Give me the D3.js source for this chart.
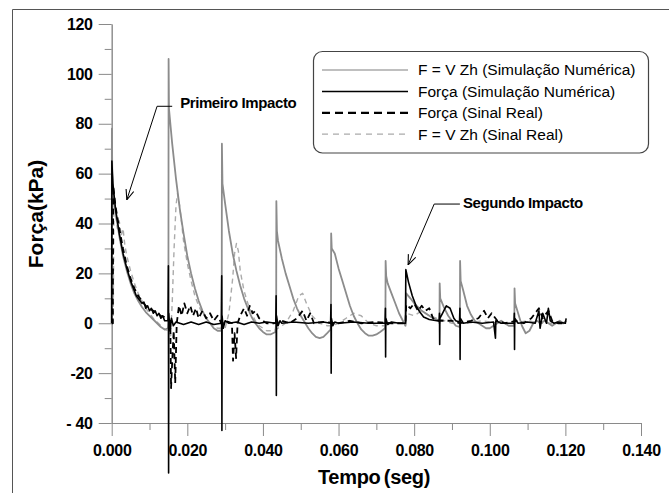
<!DOCTYPE html>
<html>
<head>
<meta charset="utf-8">
<script src="https://cdn.jsdelivr.net/npm/d3@7"></script>
<style>
  body { margin: 0; background: #fff; }
  svg text { font-family: Arial, "Liberation Sans", sans-serif; }
</style>
</head>
<body>
<svg id="chart"></svg>
<script>
// time in ms, force in kPa
const seriesNames = ["F = V Zh (Simulação Numérica)", "Força (Simulação Numérica)", "Força (Sinal Real)", "F = V Zh (Sinal Real)"];
const xTicks = [0, 20, 40, 60, 80, 100, 120, 140];
const xTickLabels = ["0.000", "0.020", "0.040", "0.060", "0.080", "0.100", "0.120", "0.140"];
const yTicks = [-40, -20, 0, 20, 40, 60, 80, 100, 120];
const yTickLabels = ["- 40", "-20", "0", "20", "40", "60", "80", "100", "120"];

// F = V Zh (Simulação Numérica)
const simVzh = [
  [0,0],[0.05,78],[0.15,60],[0.6,50],[1,45],[1.5,40],[2,35],[3,27],[4,21],[5,16],[6,12],[7,9],[8,6.5],[9,4.5],[10,3],[11,1.5],[12,0],[13,-1.5],[14,-2.5],[14.9,-2],
  [15,0],[15.05,106],[15.15,86],[16,72],[17,58],[18,46],[19,36],[20,27],[21,20],[22,14],[23,9],[24,5],[25,2],[26,0],[27,-2],[28,-3],[29,-3],
  [29.1,0],[29.15,72],[29.3,56],[30,48],[31,37],[32,28],[33,21],[34,15],[35,10],[36,6],[37,2.5],[38,0],[39,-2],[40,-3.5],[41,-4.5],[42,-4.5],[43.3,-3.5],
  [43.5,0],[43.55,49],[43.7,37],[44,33],[45,26],[46,20],[47,15],[48,10],[49,6],[50,3],[51,0.5],[52,-2],[53,-4],[54,-5.5],[55,-6],[56,-5.5],[57,-4],[57.9,-2.5],
  [58,0],[58.05,36],[58.2,30],[59,28],[60,22],[61,17],[62,12],[63,7],[64,3],[65,0],[66,-2.5],[67,-4],[68,-5],[69,-5],[70,-4.5],[71,-3.5],[72.3,-2],
  [72.4,0],[72.45,25],[72.6,19],[73,16],[74,12],[75,8],[76,4],[77,1],[77.7,-1],
  [77.8,0],[77.9,12],[79,10],[80,8],[81,6.5],[82,5],[83,4],[84,3],[85,2],[86,1.5],[86.6,1],
  [86.7,0],[86.75,16],[86.9,10],[88,6],[89,3],[90,1],[91,-1],[92,-1.5],
  [92.1,0],[92.15,25],[92.3,17],[93,13],[94,7],[95,3.5],[96,1],[97,0],[98,-1],[99,-2],[100,-2],[101,-1],[102,0],[103,1],[104,0],[105,-1],[106.4,-1],
  [106.5,0],[106.55,14],[106.7,8],[107.5,4],[108.5,-1],[109.5,-4],[110.5,-3],[111.5,0],[112.5,1],[113.5,0],[114.5,1],[115.5,0],[116.5,-1],[117.5,0],[118.5,1],[119.5,0],[120.2,1]
];

// Força (Simulação Numérica)
const simForce = [
  [0,0],[0.05,65],[0.3,56],[1,46],[2,36],[3,28],[4,22],[5,17],[5.5,15],[6,13],[6.5,11],[7,10],[7.5,9],[8,8],[8.5,8.5],[9,6],[9.5,7],[10,5],[10.5,6],[11,4],[11.5,5],[12,3],[12.5,4],[13,2],[13.5,3],[14,1],[14.9,1],
  [15,23],[15.05,-60],[15.1,4],[15.4,-3],[15.8,2],[16.3,-1],[17,0.5],[19,-0.5],[21,0.5],[23,-0.5],[25,0.5],[27,-0.5],[29,0],
  [29.1,19],[29.15,-43],[29.2,3],[29.5,-2],[30,1],[31,0],[33,0.5],[35,-0.5],[37,0.5],[39,0],[41,0.5],[43.4,0],
  [43.5,11],[43.55,-29],[43.6,3],[44,-1],[44.5,1],[45,0],[48,0.5],[52,0],[56,0.5],[57.9,0],
  [58,7.5],[58.05,-20],[58.1,2],[58.5,-1],[59,0.5],[60,0],[64,0.5],[68,0],[72.3,0],
  [72.4,6],[72.45,-13.5],[72.5,2],[73,-0.5],[74,0.5],[76,0],[77.7,0],
  [77.8,21.5],[78.5,16.5],[79.5,11],[80.5,7],[81.5,4.5],[82.5,2.5],[84,1.5],[86,1],[86.6,1],
  [86.7,4],[86.75,-8.5],[86.8,2],[87.5,4],[88.5,7],[89.5,6],[90.5,2],[91,1],[92,0.5],
  [92.1,6],[92.15,-14.5],[92.2,2],[93,0],[95,0.5],[98,0],[101,0.5],[101.5,-6],[101.6,1],[103,0],[106.4,0],
  [106.5,4],[106.55,-10.5],[106.6,2],[107.5,0],[110,0.5],[112,0],[113,5],[113.3,-2],[114,4],[115,0],[115.5,6],[116,1],[117,0],[118,0.5],[120,0],[120.2,2]
];

// Força (Sinal Real)
const realForce = [
  [0,0],[0.3,0],[0.4,55],[1,47],[2,38],[3,30],[4,23],[5,18],[6,14],[7,11],[8,9],[9,7],[10,6],[11,5],[12,4],[13,3],[14,2.5],[15,1.5],[15.5,1],
  [15.7,-26],[16.1,-12],[16.4,-3],[16.8,-24],[17.2,0],[17.8,7],[18.5,3],[19.2,8],[20,4],[20.8,7],[21.5,3],[22.3,6],[23,2],[24,5],[25,2],[26,4],[27,1],[28,3],[29,0],[30,1],[31,0.5],[31.8,0],
  [32.1,-15],[32.5,-4],[32.9,-14],[33.3,0],[34,3],[35,6],[35.8,3],[36.5,7],[37.3,4],[38,5],[39,2],[40,1],[41,0],[43,0],[45,1],[47,0],[49,2],[50.5,5],[51.5,1],[52.5,4],[53.5,0],
  [56,0.5],[60,0],[63,1],[66,0],[70,0.5],[74,0],[77.7,0],[77.9,7.5],[79,6],[80,8],[81,5],[82,7],[83,5],[84,6],[85,2],[86,1],[88,1],[90,1],[92,0],
  [95,1],[97,2],[98.5,5],[99.5,2],[100.5,4],[102,1],[104,0],[107,1],[109,0],[111,2],[113,6],[114,2],[115.5,5],[116.5,1],[118,0],[120,0]
];

// F = V Zh (Sinal Real)
const realVzh = [
  [0,0],[0.4,0],[0.6,50],[1,44],[1.5,38],[2,41],[2.5,35],[3,38],[3.5,31],[4,27],[5,21],[6,16],[7,12],[8,9],[9,6],[10,4],[11,2],[12,0.5],[13,-1],[14,-2.5],[15,-3],
  [15.6,-5],[16,8],[16.5,30],[17,47],[17.4,52],[17.9,48],[18.5,40],[19,33],[20,24],[21,17],[22,11],[23,7],[24,4],[25,2],[26,0],[27,-1],[28,-2],[29,-2],
  [30,-2],[31,4],[32,18],[32.5,28],[33,32],[33.5,29],[34,21],[35,13],[36,8],[37,4],[38,1],[39,-1],[40,-2],[41,-3],[43,-3],
  [44,-2],[46,0],[48,5],[49.5,11],[50.5,12],[51.5,8],[53,3],[55,0],[57,-1],[58,-1],[60,0],[62,2],[64,4],[66,3],[68,0],[70,-1],[72,-1],[74,0],[77.7,0],
  [78,4],[80,3],[82,5],[84,3],[86,2],[88,1],[90,0],[94,0],[98,1],[102,0],[106,0],[110,1],[114,0],[118,0],[120,0]
];

// annotations, in data units (ms, kPa)
const notes = [
  {text: "Primeiro Impacto", tip: [4.0, 49.5], elbow: [12.0, 87], end: [16.0, 87], label: [18.1, 88.5]},
  {text: "Segundo Impacto", tip: [78.4, 23.4], elbow: [85.3, 47.8], end: [92.1, 47.8], label: [92.9, 48.3]}
];

const svgWidth = 669, svgHeight = 493;
const chart = d3.select("#chart").attr("width", svgWidth).attr("height", svgHeight);

var xScale = d3.scaleLinear().domain([0, 140]).range([111.7, 641]);
var yScale = d3.scaleLinear().domain([-40, 120]).range([423, 24]);

// outer frame (left and top edges only)
chart.append("path")
  .attr("d", "M12.5,493 L12.5,9.5 L669,9.5")
  .attr("fill", "none").attr("stroke", "#555").attr("stroke-width", 1);

// axes
const axisColor = "#8a8a8a";
var xMinor = d3.axisBottom(xScale).tickValues(d3.range(10, 140, 20)).tickSize(7).tickSizeOuter(0).tickFormat("");
var xMajor = d3.axisBottom(xScale).tickValues(xTicks).tickSize(13).tickSizeOuter(0).tickPadding(9)
  .tickFormat((d, i) => xTickLabels[i]);
var yMinor = d3.axisLeft(yScale).tickValues(d3.range(-30, 120, 20)).tickSize(7).tickSizeOuter(0).tickFormat("");
var yMajor = d3.axisLeft(yScale).tickValues(yTicks).tickSize(13).tickSizeOuter(0).tickPadding(6)
  .tickFormat((d, i) => yTickLabels[i]);

[xMinor, xMajor].forEach(a => chart.append("g").attr("transform", "translate(0," + yScale(-40) + ")").call(a));
[yMinor, yMajor].forEach(a => chart.append("g").attr("transform", "translate(" + xScale(0) + ",0)").call(a));
chart.selectAll(".domain, .tick line").attr("stroke", axisColor);
chart.selectAll(".tick text")
  .attr("fill", "#000").style("font-size", "16px").style("font-weight", "bold").style("letter-spacing", "-0.3px");

chart.append("text")
  .attr("x", 374).attr("y", 484)
  .attr("text-anchor", "middle")
  .style("font-size", "20px").style("font-weight", "bold").style("word-spacing", "-2px").style("letter-spacing", "-0.3px")
  .text("Tempo (seg)");
chart.append("text")
  .attr("transform", "translate(43,214) rotate(-90)")
  .attr("text-anchor", "middle")
  .style("font-size", "21px").style("font-weight", "bold")
  .text("Força(kPa)");

// lines
var valueline = d3.line()
  .x(function(d){ return xScale(d[0]); })
  .y(function(d){ return yScale(d[1]); })
  .curve(d3.curveLinear);

const styles = [
  {data: realVzh, color: "#ababab", width: 1.4, dash: "5,4"},
  {data: simVzh, color: "#8c8c8c", width: 1.8, dash: null},
  {data: realForce, color: "#000", width: 1.8, dash: "6,4"},
  {data: simForce, color: "#000", width: 1.6, dash: null}
];
styles.forEach(s => {
  chart.append("path")
    .datum(s.data)
    .attr("d", valueline)
    .attr("fill", "none")
    .attr("stroke", s.color)
    .attr("stroke-width", s.width)
    .attr("stroke-linejoin", "round")
    .attr("stroke-dasharray", s.dash);
});

// arrows + annotation labels
chart.append("defs").append("marker")
  .attr("id", "arrow").attr("viewBox", "0 0 10 10")
  .attr("refX", 10).attr("refY", 5)
  .attr("markerWidth", 10).attr("markerHeight", 10)
  .attr("markerUnits", "userSpaceOnUse").attr("orient", "auto")
  .append("path").attr("d", "M0,1 L10,5 L0,9")
  .attr("fill", "none").attr("stroke", "#000").attr("stroke-width", 1.1);

notes.forEach(n => {
  chart.append("path")
    .datum([n.end, n.elbow, n.tip])
    .attr("d", valueline)
    .attr("fill", "none").attr("stroke", "#000").attr("stroke-width", 1)
    .attr("marker-end", "url(#arrow)");
  chart.append("text")
    .attr("x", xScale(n.label[0])).attr("y", yScale(n.label[1]))
    .attr("dy", "0.35em")
    .style("font-size", "15px").style("font-weight", "bold").style("letter-spacing", "-0.4px")
    .text(n.text);
});

// legend
const legend = chart.append("g");
legend.append("rect")
  .attr("x", 313.5).attr("y", 51.5).attr("width", 335).attr("height", 101.5)
  .attr("rx", 9).attr("fill", "#fff").attr("stroke", "#444").attr("stroke-width", 1.2);
const legendStyles = [
  {color: "#aaa", width: 1.3, dash: null},
  {color: "#000", width: 1.5, dash: null},
  {color: "#000", width: 2.2, dash: "8,5"},
  {color: "#aaa", width: 1.3, dash: "6,5"}
];
seriesNames.forEach((name, i) => {
  const yy = 70 + i * 21.4;
  legend.append("line")
    .attr("x1", 322).attr("x2", 408).attr("y1", yy).attr("y2", yy)
    .attr("stroke", legendStyles[i].color).attr("stroke-width", legendStyles[i].width)
    .attr("stroke-dasharray", legendStyles[i].dash);
  legend.append("text")
    .attr("x", 418).attr("y", yy).attr("dy", "0.35em")
    .style("font-size", "15.5px")
    .text(name);
});
</script>
</body>
</html>
